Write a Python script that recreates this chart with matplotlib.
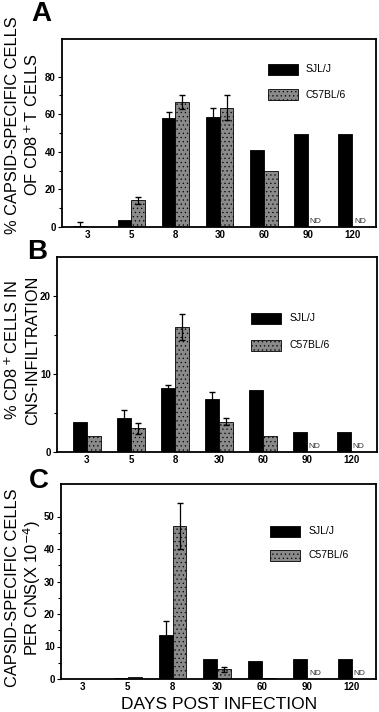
import numpy as np
import matplotlib
matplotlib.use("Agg")
import matplotlib.pyplot as plt

plt.rcParams['font.family'] = ['Liberation Sans', 'DejaVu Sans']
plt.rcParams['hatch.linewidth'] = 0.4

# days post infection (categories)
days = ["3", "5", "8", "30", "60", "90", "120"]

# panel A: % capsid-specific cells of CD8+ T cells
a_sjl = [0.4, 3.8, 58.0, 58.5, 41.0, 49.3, 49.3]
a_sjl_err = [2.5, 0, 3.2, 5.0, 0, 0, 0]
a_b6 = [0, 14.2, 66.5, 63.5, 30.0, np.nan, np.nan]
a_b6_err = [0, 2.0, 3.9, 6.5, 0, 0, 0]

# panel B: % CD8+ cells in CNS-infiltration
b_sjl = [3.8, 4.4, 8.2, 6.8, 7.9, 2.6, 2.6]
b_sjl_err = [0, 1.0, 0.4, 0.9, 0, 0, 0]
b_b6 = [2.0, 3.05, 16.0, 3.9, 2.0, np.nan, np.nan]
b_b6_err = [0, 0.7, 1.7, 0.5, 0, 0, 0]

# panel C: capsid-specific cells per CNS (x10^-4)
c_sjl = [0, 0.3, 13.5, 6.2, 5.6, 6.2, 6.2]
c_sjl_err = [0, 0, 4.2, 0, 0, 0, 0]
c_b6 = [0, 0.7, 47.1, 3.0, 0.3, np.nan, np.nan]
c_b6_err = [0, 0, 7.0, 0.7, 0, 0, 0]

W, H = 379, 712


def frac(l, t, r, b):
    return [l / W, 1 - b / H, (r - l) / W, (b - t) / H]


panels = [
    dict(letter="A", rect=frac(62, 39, 376, 227), xlim=(-0.57, 6.54),
         sjl=a_sjl, sjl_err=a_sjl_err, b6=a_b6, b6_err=a_b6_err,
         ymax=100, yt=[0, 20, 40, 60, 80], ymin=[10, 30, 50, 70],
         ylab=["% CAPSID-SPECIFIC CELLS", "OF CD8$^+$T CELLS"], ylab_y=125,
         leg=(0.655, 0.81, 0.135), let=(31, 1)),
    dict(letter="B", rect=frac(57, 257, 377, 452), xlim=(-0.68, 6.59),
         sjl=b_sjl, sjl_err=b_sjl_err, b6=b_b6, b6_err=b_b6_err,
         ymax=25, yt=[0, 10, 20], ymin=[5, 15],
         ylab=["% CD8$^+$CELLS IN", "CNS-INFILTRATION"], ylab_y=350,
         leg=(0.605, 0.656, 0.138), let=(27, 239)),
    dict(letter="C", rect=frac(61, 484, 376, 679), xlim=(-0.49, 6.54),
         sjl=c_sjl, sjl_err=c_sjl_err, b6=c_b6, b6_err=c_b6_err,
         ymax=60, yt=[0, 10, 20, 30, 40, 50], ymin=[5, 15, 25, 35, 45],
         ylab=["CAPSID-SPECIFIC CELLS", "PER CNS(X 10$^{-4}$)"], ylab_y=588,
         leg=(0.663, 0.728, 0.123), let=(29, 468)),
]

fig = plt.figure(figsize=(W / 100, H / 100), dpi=100)
x = np.arange(len(days))
w = 0.31
gray = '#8a8a8a'

for p in panels:
    ax = fig.add_axes(p['rect'])
    sjl, b6 = p['sjl'], p['b6']
    ax.bar(x - w / 2, sjl, w, color='black', edgecolor='black', linewidth=0.6)
    ax.bar(x + w / 2, b6, w, color=gray, edgecolor='black', linewidth=0.6,
           hatch='....')
    for i in range(len(days)):
        if p['sjl_err'][i] > 0:
            e = p['sjl_err'][i]
            ax.errorbar(x[i] - w / 2, sjl[i], yerr=[[e], [e]],
                        fmt='none', ecolor='black', elinewidth=0.9, capsize=2.5)
        if p['b6_err'][i] > 0:
            e = p['b6_err'][i]
            ax.errorbar(x[i] + w / 2, b6[i], yerr=[[e], [e]],
                        fmt='none', ecolor='black', elinewidth=0.9, capsize=2.5)
        if np.isnan(b6[i]):
            ax.text(x[i] + w / 2 + 0.02, p['ymax'] * 0.012, "ND", fontsize=6,
                    ha='center', va='bottom', color='#333333')
    ax.set_xlim(*p['xlim'])
    ax.set_ylim(0, p['ymax'])
    ax.set_yticks(p['yt'])
    ax.set_yticks(p['ymin'], minor=True)
    ax.set_xticks(x)
    ax.set_xticklabels(days)
    ax.tick_params(axis='y', which='major', labelsize=7, length=3, width=0.8, pad=1.5)
    ax.tick_params(axis='y', which='minor', length=2, width=0.8)
    ax.tick_params(axis='x', length=0, labelsize=7, pad=2.5)
    for lbl in ax.get_xticklabels() + ax.get_yticklabels():
        lbl.set_fontweight('bold')
    for s in ax.spines.values():
        s.set_linewidth(1.3)
    # two-line y label, one text per line
    for xl, line in zip([12.5, 32.5], p['ylab']):
        fig.text(xl / W, 1 - p['ylab_y'] / H, line, rotation=90, fontsize=11.8,
                 ha='center', va='center')
    # legend boxes drawn in axes coords
    lx, ly, gap = p['leg']
    ax.add_patch(plt.Rectangle((lx, ly), 0.095, 0.058, transform=ax.transAxes,
                               facecolor='black', edgecolor='black', lw=0.6))
    ax.add_patch(plt.Rectangle((lx, ly - gap), 0.095, 0.058, transform=ax.transAxes,
                               facecolor=gray, edgecolor='black', lw=0.6, hatch='....'))
    ax.text(lx + 0.122, ly + 0.029, "SJL/J", transform=ax.transAxes,
            fontsize=7.5, va='center')
    ax.text(lx + 0.122, ly - gap + 0.029, "C57BL/6", transform=ax.transAxes,
            fontsize=7.5, va='center')
    lx_px, ly_px = p['let']
    fig.text(lx_px / W, 1 - ly_px / H, p['letter'], fontsize=20,
             fontweight='bold', va='top', ha='left')

fig.text(219 / W, 1 - 709 / H, "DAYS POST INFECTION", fontsize=12.5,
         ha='center', va='baseline')

fig.savefig("out.png", dpi=100)
